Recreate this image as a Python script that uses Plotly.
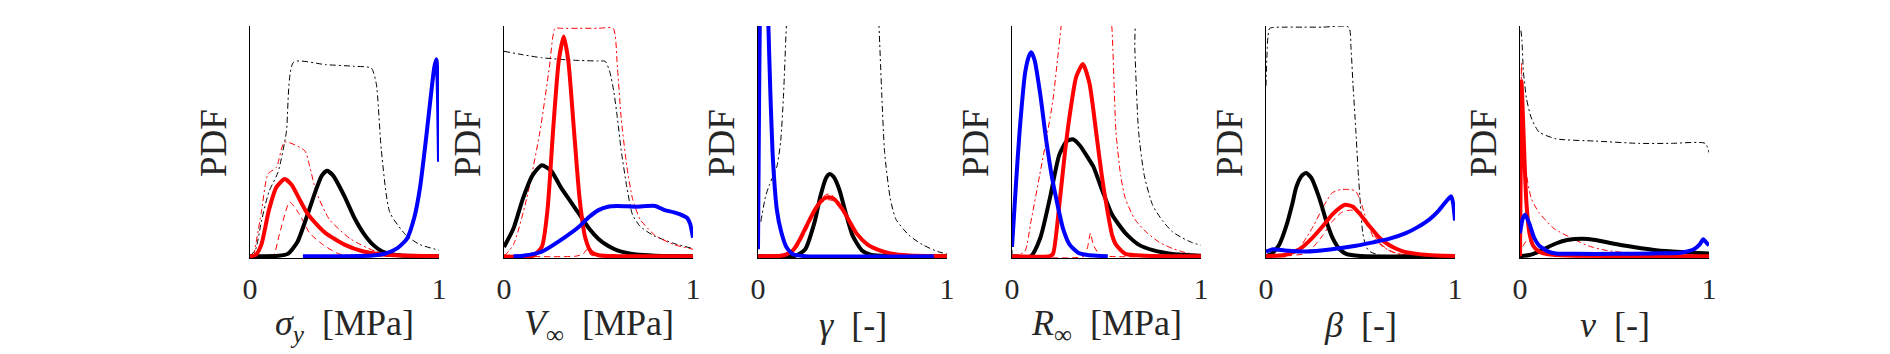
import plotly.graph_objects as go

# ---- panel 1: sigma_y ----
sy_prior_x = [0, 0.03, 0.06, 0.1, 0.148, 0.192, 0.231, 0.4, 0.55, 0.642, 0.668, 0.695, 0.74, 0.827, 0.9, 1.0]
sy_prior_y = [0, 0.03, 0.15, 0.28, 0.364, 0.537, 0.843, 0.832, 0.825, 0.817, 0.75, 0.46, 0.19, 0.09, 0.05, 0.026]
sy_rdd_x = [0.02, 0.06, 0.095, 0.14, 0.183, 0.29, 0.316, 0.35, 0.42, 0.53, 0.67, 1.0]
sy_rdd_y = [0, 0.19, 0.357, 0.386, 0.496, 0.458, 0.39, 0.28, 0.16, 0.076, 0.02, 0]
sy_rda_x = [0, 0.12, 0.157, 0.21, 0.263, 0.316, 0.386, 0.47, 0.6, 1.0]
sy_rda_y = [0, 0, 0.1, 0.235, 0.18, 0.1, 0.05, 0.01, 0, 0]
sy_black_x = [0, 0.15, 0.2, 0.25, 0.3, 0.35, 0.38, 0.407, 0.44, 0.5, 0.55, 0.6, 0.65, 0.7, 0.75, 0.8, 1.0]
sy_black_y = [0, 0.002, 0.01, 0.06, 0.17, 0.29, 0.35, 0.371, 0.35, 0.26, 0.17, 0.1, 0.05, 0.02, 0.008, 0.003, 0]
sy_red_x = [0, 0.03, 0.06, 0.1, 0.14, 0.183, 0.22, 0.26, 0.3, 0.35, 0.4, 0.5, 0.6, 0.7, 0.8, 1.0]
sy_red_y = [0, 0.005, 0.05, 0.2, 0.3, 0.335, 0.31, 0.25, 0.19, 0.14, 0.1, 0.05, 0.02, 0.007, 0.003, 0]
sy_blue_x = [0.28, 0.5, 0.65, 0.72, 0.78, 0.83, 0.87, 0.9, 0.93, 0.96, 0.975, 0.986, 0.993, 1.0]
sy_blue_y = [0, 0, 0.003, 0.012, 0.035, 0.075, 0.17, 0.3, 0.5, 0.72, 0.82, 0.855, 0.75, 0.41]

# ---- panel 2: V_inf ----
vi_prior_x = [0, 0.1, 0.2, 0.3, 0.4, 0.5, 0.536, 0.56, 0.58, 0.6, 0.62, 0.65, 0.68, 0.72, 0.79, 0.9, 1.0]
vi_prior_y = [0.89, 0.875, 0.862, 0.855, 0.85, 0.848, 0.846, 0.8, 0.72, 0.6, 0.46, 0.3, 0.18, 0.13, 0.09, 0.055, 0.033]
vi_rdd_x = [0, 0.05, 0.12, 0.19, 0.24, 0.27, 0.3, 0.4, 0.5, 0.577, 0.6, 0.62, 0.65, 0.68, 0.72, 0.8, 0.9, 1.0]
vi_rdd_y = [0, 0.05, 0.25, 0.54, 0.82, 0.99, 0.99, 0.99, 0.99, 0.99, 0.82, 0.6, 0.39, 0.25, 0.16, 0.09, 0.05, 0.03]
vi_rda_x = [0, 0.38, 0.42, 0.44, 0.46, 0.5, 1.0]
vi_rda_y = [0, 0, 0.01, 0.03, 0.005, 0, 0]
vi_black_x = [0, 0.05, 0.1, 0.15, 0.2, 0.25, 0.3, 0.35, 0.4, 0.45, 0.5, 0.55, 0.6, 0.7, 0.8, 1.0]
vi_black_y = [0.04, 0.12, 0.25, 0.35, 0.395, 0.37, 0.3, 0.24, 0.18, 0.12, 0.075, 0.045, 0.025, 0.007, 0.002, 0]
vi_red_x = [0, 0.15, 0.2, 0.23, 0.26, 0.29, 0.316, 0.34, 0.37, 0.4, 0.43, 0.46, 0.5, 0.6, 1.0]
vi_red_y = [0, 0, 0.04, 0.2, 0.55, 0.85, 0.954, 0.85, 0.55, 0.25, 0.08, 0.02, 0.004, 0, 0]
vi_blue_x = [0.05, 0.1, 0.2, 0.3, 0.4, 0.45, 0.5, 0.55, 0.6, 0.7, 0.8, 0.85, 0.9, 0.95, 0.97, 0.985, 1.0]
vi_blue_y = [0, 0.002, 0.02, 0.07, 0.13, 0.17, 0.2, 0.215, 0.218, 0.215, 0.218, 0.2, 0.19, 0.175, 0.165, 0.14, 0.08]

# ---- panel 3: gamma ----
ga_prior_x = [0.015, 0.04, 0.06, 0.1, 0.12, 0.135, 0.15, 0.17, 0.4, 0.62, 0.64, 0.655, 0.67, 0.7, 0.73, 0.8, 0.87, 0.95, 1.0]
ga_prior_y = [0.15, 0.26, 0.31, 0.39, 0.5, 0.7, 1.0, 1.3, 1.3, 1.3, 1.0, 0.7, 0.45, 0.25, 0.16, 0.09, 0.05, 0.02, 0.01]
ga_rdd_x = [0, 0.12, 0.185, 0.256, 0.3, 0.34, 0.37, 0.4, 0.45, 0.52, 0.6, 0.7, 1.0]
ga_rdd_y = [0, 0.002, 0.03, 0.14, 0.21, 0.255, 0.27, 0.26, 0.21, 0.11, 0.04, 0.012, 0]
ga_rda_x = [0, 0.15, 0.2, 0.26, 0.3, 0.34, 0.37, 0.4, 0.45, 0.52, 0.6, 0.7, 1.0]
ga_rda_y = [0, 0.005, 0.03, 0.12, 0.19, 0.235, 0.245, 0.24, 0.19, 0.1, 0.035, 0.01, 0]
ga_black_x = [0, 0.2, 0.25, 0.3, 0.33, 0.36, 0.38, 0.4, 0.43, 0.46, 0.5, 0.55, 0.6, 0.7, 1.0]
ga_black_y = [0, 0.002, 0.03, 0.15, 0.26, 0.34, 0.357, 0.345, 0.29, 0.2, 0.09, 0.025, 0.005, 0, 0]
ga_red_x = [0, 0.12, 0.15, 0.185, 0.22, 0.256, 0.3, 0.34, 0.37, 0.4, 0.45, 0.52, 0.58, 0.64, 0.7, 0.8, 1.0]
ga_red_y = [0, 0.002, 0.008, 0.025, 0.07, 0.13, 0.2, 0.245, 0.256, 0.25, 0.2, 0.1, 0.05, 0.026, 0.012, 0.003, 0]
ga_blue_x = [0, 0.006, 0.015, 0.03, 0.045, 0.055, 0.065, 0.079, 0.1, 0.123, 0.15, 0.185, 0.25, 0.93]
ga_blue_y = [0.03, 0.7, 1.3, 1.5, 1.3, 1.0, 0.72, 0.42, 0.2, 0.105, 0.04, 0.008, 0, 0]

# ---- panel 4: R_inf ----
ri_prior_x = [0.0, 0.004, 0.01, 0.3, 0.63, 0.65, 0.67, 0.7, 0.745, 0.8, 0.85, 0.9, 0.95, 1.0]
ri_prior_y = [0, 1.5, 1.5, 1.5, 1.5, 0.9, 0.54, 0.35, 0.22, 0.15, 0.105, 0.08, 0.06, 0.047]
ri_rdd_x = [0.0, 0.067, 0.1, 0.146, 0.18, 0.217, 0.24, 0.26, 0.28, 0.5, 0.528, 0.54, 0.55, 0.575, 0.6, 0.65, 0.71, 0.78, 0.85, 0.92, 1.0]
ri_rdd_y = [0, 0.02, 0.15, 0.35, 0.5, 0.68, 0.85, 1.0, 1.2, 1.2, 1.0, 0.75, 0.54, 0.35, 0.25, 0.16, 0.105, 0.06, 0.033, 0.015, 0.005]
ri_rda_x = [0, 0.38, 0.4, 0.415, 0.43, 0.46, 0.5, 1.0]
ri_rda_y = [0, 0, 0.04, 0.1, 0.05, 0.01, 0, 0]
ri_black_x = [0, 0.1, 0.15, 0.2, 0.25, 0.29, 0.322, 0.36, 0.4, 0.43, 0.48, 0.53, 0.6, 0.67, 0.75, 0.85, 1.0]
ri_black_y = [0, 0.0, 0.08, 0.25, 0.44, 0.5, 0.508, 0.48, 0.43, 0.39, 0.28, 0.18, 0.1, 0.05, 0.025, 0.01, 0.002]
ri_red_x = [0, 0.2, 0.217, 0.25, 0.28, 0.305, 0.34, 0.375, 0.41, 0.445, 0.475, 0.5, 0.53, 0.55, 0.6, 0.7, 1.0]
ri_red_y = [0, 0.0, 0.01, 0.22, 0.45, 0.61, 0.78, 0.835, 0.75, 0.54, 0.35, 0.22, 0.09, 0.05, 0.01, 0.002, 0]
ri_blue_x = [0, 0.02, 0.04, 0.07, 0.09, 0.102, 0.12, 0.15, 0.18, 0.21, 0.234, 0.27, 0.305, 0.35, 0.4, 0.45, 0.507]
ri_blue_y = [0.04, 0.3, 0.54, 0.8, 0.87, 0.886, 0.85, 0.7, 0.51, 0.35, 0.25, 0.12, 0.05, 0.015, 0.005, 0.002, 0]

# ---- panel 5: beta ----
be_prior_x = [0, 0.01, 0.02, 0.1, 0.2, 0.3, 0.437, 0.45, 0.46, 0.475, 0.486, 0.5, 0.512, 0.53, 0.55, 0.6, 1.0]
be_prior_y = [0.74, 0.95, 0.99, 0.995, 0.995, 0.995, 0.995, 0.9, 0.75, 0.55, 0.39, 0.22, 0.1, 0.04, 0.02, 0.005, 0]
be_rdd_x = [0, 0.12, 0.18, 0.25, 0.3, 0.35, 0.4, 0.424, 0.45, 0.477, 0.5, 0.53, 0.57, 0.62, 0.7, 1.0]
be_rdd_y = [0, 0.0, 0.04, 0.13, 0.21, 0.275, 0.29, 0.29, 0.29, 0.28, 0.24, 0.16, 0.08, 0.04, 0.01, 0]
be_rda_x = [0, 0.2, 0.25, 0.3, 0.35, 0.4, 0.45, 0.5, 0.55, 0.6, 0.65, 0.7, 1.0]
be_rda_y = [0, 0.01, 0.04, 0.09, 0.15, 0.19, 0.2, 0.18, 0.12, 0.06, 0.025, 0.01, 0]
be_black_x = [0, 0.03, 0.07, 0.107, 0.14, 0.16, 0.19, 0.213, 0.24, 0.283, 0.32, 0.354, 0.39, 0.424, 0.5, 1.0]
be_black_y = [0, 0.01, 0.05, 0.13, 0.23, 0.3, 0.35, 0.361, 0.34, 0.25, 0.15, 0.076, 0.03, 0.01, 0.001, 0]
be_red_x = [0, 0.1, 0.178, 0.24, 0.3, 0.35, 0.39, 0.42, 0.46, 0.5, 0.548, 0.6, 0.653, 0.72, 0.8, 0.9, 1.0]
be_red_y = [0, 0.005, 0.03, 0.075, 0.13, 0.18, 0.21, 0.223, 0.215, 0.18, 0.13, 0.08, 0.047, 0.022, 0.01, 0.003, 0.001]
be_blue_x = [0, 0.037, 0.1, 0.21, 0.35, 0.477, 0.565, 0.65, 0.74, 0.8, 0.865, 0.91, 0.95, 0.98, 0.99, 1.0]
be_blue_y = [0.02, 0.03, 0.025, 0.02, 0.03, 0.045, 0.06, 0.075, 0.1, 0.125, 0.16, 0.195, 0.235, 0.26, 0.23, 0.155]

# ---- panel 6: nu ----
nu_prior_x = [0.005, 0.01, 0.018, 0.025, 0.033, 0.06, 0.1, 0.19, 0.4, 0.63, 0.8, 0.98, 1.0]
nu_prior_y = [0.98, 0.94, 0.8, 0.75, 0.69, 0.6, 0.54, 0.51, 0.5, 0.49, 0.49, 0.49, 0.45]
nu_rdd_x = [0.002, 0.008, 0.015, 0.03, 0.06, 0.1, 0.18, 0.28, 0.36, 0.45, 0.6, 1.0]
nu_rdd_y = [0.0, 0.84, 0.6, 0.38, 0.25, 0.19, 0.12, 0.076, 0.045, 0.026, 0.012, 0.01]
nu_rda_x = [0, 0.02, 0.04, 0.07, 0.1, 0.2, 1.0]
nu_rda_y = [0, 0.05, 0.07, 0.05, 0.03, 0.01, 0]
nu_black_x = [0, 0.05, 0.1, 0.15, 0.19, 0.25, 0.33, 0.4, 0.49, 0.6, 0.72, 0.85, 1.0]
nu_black_y = [0, 0.005, 0.02, 0.04, 0.055, 0.07, 0.076, 0.07, 0.055, 0.04, 0.026, 0.018, 0.012]
nu_red_x = [0, 0.004, 0.008, 0.015, 0.025, 0.035, 0.05, 0.07, 0.1, 0.15, 0.25, 1.0]
nu_red_y = [0, 0.4, 0.76, 0.62, 0.39, 0.22, 0.1, 0.045, 0.02, 0.008, 0.003, 0]
nu_blue_x = [0, 0.015, 0.028, 0.05, 0.075, 0.1, 0.15, 0.19, 0.3, 0.5, 0.7, 0.85, 0.92, 0.95, 0.97, 0.985, 1.0]
nu_blue_y = [0.1, 0.165, 0.18, 0.14, 0.08, 0.047, 0.02, 0.012, 0.01, 0.01, 0.012, 0.015, 0.03, 0.05, 0.073, 0.06, 0.047]

xlabels = ["<i>σ</i><sub><i>y</i></sub>  [MPa]", "<i>V</i><sub>∞</sub>  [MPa]", "<i>γ</i>  [-]",
           "<i>R</i><sub>∞</sub>  [MPa]", "<i>β</i>  [-]", "<i>ν</i>  [-]"]
tick_vals = [0, 1]
tick_text = ["0", "1"]

panels = [
    (sy_prior_x, sy_prior_y, sy_rdd_x, sy_rdd_y, sy_rda_x, sy_rda_y, sy_black_x, sy_black_y, sy_red_x, sy_red_y, sy_blue_x, sy_blue_y),
    (vi_prior_x, vi_prior_y, vi_rdd_x, vi_rdd_y, vi_rda_x, vi_rda_y, vi_black_x, vi_black_y, vi_red_x, vi_red_y, vi_blue_x, vi_blue_y),
    (ga_prior_x, ga_prior_y, ga_rdd_x, ga_rdd_y, ga_rda_x, ga_rda_y, ga_black_x, ga_black_y, ga_red_x, ga_red_y, ga_blue_x, ga_blue_y),
    (ri_prior_x, ri_prior_y, ri_rdd_x, ri_rdd_y, ri_rda_x, ri_rda_y, ri_black_x, ri_black_y, ri_red_x, ri_red_y, ri_blue_x, ri_blue_y),
    (be_prior_x, be_prior_y, be_rdd_x, be_rdd_y, be_rda_x, be_rda_y, be_black_x, be_black_y, be_red_x, be_red_y, be_blue_x, be_blue_y),
    (nu_prior_x, nu_prior_y, nu_rdd_x, nu_rdd_y, nu_rda_x, nu_rda_y, nu_black_x, nu_black_y, nu_red_x, nu_red_y, nu_blue_x, nu_blue_y),
]

W, H = 1890, 354
lefts = [250, 504, 758, 1012, 1266, 1520]
pw = 189
top, bot = 26, 258
FONT = "Liberation Serif"
TXT = "#262626"
DD = "6px,3px,2px,3px"
DA = "6px,4px"

fig = go.Figure()
layout = {}
annots = []
for i, p in enumerate(panels):
    n = "" if i == 0 else str(i + 1)
    xa, ya = "x" + n, "y" + n
    styles = [("black", 1, DD), ("red", 1, DD), ("red", 1, DA),
              ("black", 4, "solid"), ("red", 4, "solid"), ("blue", 4, "solid")]
    for k, (c, w, d) in enumerate(styles):
        fig.add_trace(go.Scatter(x=p[2 * k], y=p[2 * k + 1], mode="lines", xaxis=xa, yaxis=ya,
                                 line=dict(color=c, width=w, dash=d, shape="spline", smoothing=0.6),
                                 showlegend=False, hoverinfo="skip"))
    x0 = lefts[i] / W
    x1 = (lefts[i] + pw) / W
    layout["xaxis" + n] = dict(domain=[x0, x1], range=[0, 1], anchor=ya, showgrid=False, zeroline=False,
                               showline=True, linecolor="black", linewidth=1, ticks="",
                               tickvals=tick_vals, ticktext=tick_text, ticklabelstandoff=4,
                               automargin=False,
                               tickfont=dict(family=FONT, size=30, color=TXT))
    layout["yaxis" + n] = dict(domain=[1 - bot / H, 1 - top / H], range=[-0.008, 1], anchor=xa,
                               showgrid=False, zeroline=False, showline=True, linecolor="black",
                               linewidth=1, ticks="", showticklabels=False, automargin=False)
    annots.append(dict(text=xlabels[i], x=(lefts[i] + pw / 2) / W, y=1 - 325 / H, xref="paper", yref="paper",
                       xanchor="center", yanchor="middle", showarrow=False,
                       font=dict(family=FONT, size=36, color=TXT)))
    annots.append(dict(text="PDF", x=(lefts[i] - 37) / W, y=1 - 143 / H, xref="paper", yref="paper",
                       xanchor="center", yanchor="middle", showarrow=False, textangle=-90,
                       font=dict(family=FONT, size=37, color=TXT)))

fig.update_layout(width=W, height=H, margin=dict(l=0, r=0, t=0, b=0, pad=0, autoexpand=False),
                  paper_bgcolor="white", plot_bgcolor="white", annotations=annots, **layout)
fig.write_html("out.html", config={"displayModeBar": False},
               post_script="document.body.style.margin='0px';")
